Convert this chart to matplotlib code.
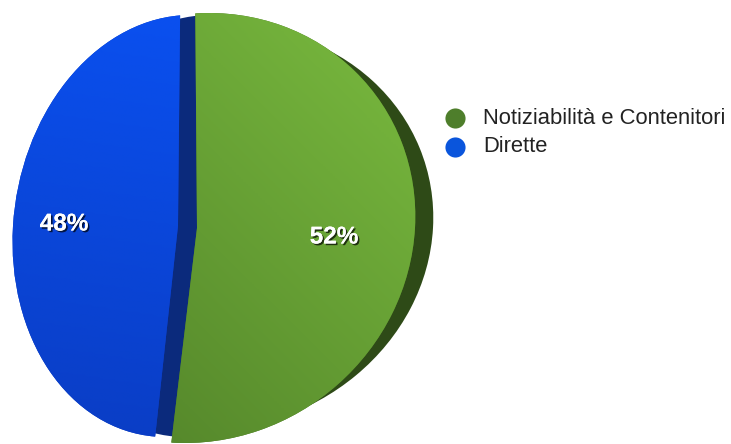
import numpy as np
import matplotlib.pyplot as plt
import matplotlib.patheffects as pe
from matplotlib.patches import Wedge
from matplotlib.transforms import Affine2D
from matplotlib.colors import LinearSegmentedColormap

labels = ["Notiziabilità e Contenitori", "Dirette"]
values = [52, 48]

# face gradient colours (dark end, light end), side colour, legend colour
face_colors = [("#4a7825", "#7cbe40"), ("#0a3cc2", "#0a52f4")]
side_colors = ["#2e4a17", "#0b2a7c"]
legend_colors = ["#4e7e2b", "#0a55dc"]

W, H = 731, 444
fig = plt.figure(figsize=(W / 100, H / 100), dpi=100)
ax = fig.add_axes([0, 0, 1, 1])

# split line roughly vertical
start = 90 + (values[0] / sum(values) * 360 - 180) / 2
wedges, _ = ax.pie(values, startangle=start, counterclock=False,
                   wedgeprops=dict(linewidth=0))

# fake 3d look: every slice gets its own ellipse (pixels, y from top)
geom = [(197, 228, 218, 215, 12 / 215),
        (178, 226, 165, 211, 12.5 / 211)]
side_shift = [18, 20]
side_squash = [0.94, 1.0]
grad_dir = [(1.0, 1.0), (0.15, 1.0)]
label_pos = [(334, 237), (64, 224)]

for i, w in enumerate(wedges):
    cx, cy, rx, ry, k = geom[i]
    T = Affine2D().scale(rx, ry).skew(np.arctan(k), 0).translate(cx, H - cy)

    # side of the slice, drawn behind
    side = Wedge((0, 0), 1, w.theta1, w.theta2, facecolor=side_colors[i],
                 linewidth=0, zorder=1)
    Ts = (Affine2D().scale(rx, ry * side_squash[i]).skew(np.arctan(k), 0)
          .translate(cx + side_shift[i], H - cy))
    side.set_transform(Ts + ax.transData)
    ax.add_patch(side)

    w.set_transform(T + ax.transData)
    w.set_facecolor(face_colors[i][0])
    w.set_zorder(2)

    # gradient on the face
    x0, x1 = cx - rx - 20, cx + rx + 20
    y0, y1 = H - cy - ry - 20, H - cy + ry + 20
    X, Y = np.meshgrid(np.linspace(x0, x1, 200), np.linspace(y0, y1, 200))
    dx, dy = grad_dir[i]
    t = (X - x0) * dx + (Y - y0) * dy
    t = (t - t.min()) / (t.max() - t.min())
    cmap = LinearSegmentedColormap.from_list("g%d" % i, face_colors[i])
    im = ax.imshow(t, extent=[x0, x1, y0, y1], origin="lower", cmap=cmap,
                   zorder=2.5, interpolation="bilinear")
    im.set_clip_path(w)

    ax.text(label_pos[i][0], H - label_pos[i][1], f"{values[i]}%",
            color="white", fontsize=17.5, fontweight="bold",
            family="Liberation Sans", ha="center", va="center", zorder=5,
            path_effects=[pe.withSimplePatchShadow(offset=(1.2, -1.2),
                                                   shadow_rgbFace="black",
                                                   alpha=0.7),
                          pe.Normal()])

# legend
for i, lab in enumerate(labels):
    y = H - (118 + 29 * i)
    ax.scatter([455], [y], s=210, color=legend_colors[i], zorder=5,
               linewidths=0)
    ax.text(483, y, lab, fontsize=15.8, color="#222222",
            family="Liberation Sans", va="center", ha="left", zorder=5)

ax.set_xlim(0, W)
ax.set_ylim(0, H)
ax.set_aspect("auto")
ax.axis("off")

fig.savefig("out.png", dpi=100)
